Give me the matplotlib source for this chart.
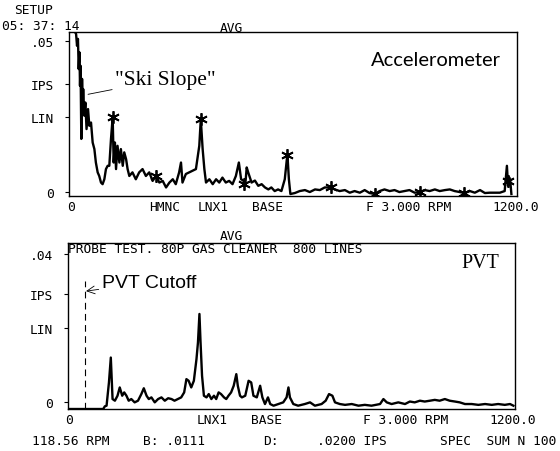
import numpy as np
import matplotlib
matplotlib.use("Agg")
import matplotlib.pyplot as plt

# accelerometer spectrum (RPM, IPS)
acc_rpm = [14, 19, 21.5, 24, 26, 28, 29.5, 31, 33, 35, 36.6, 38, 41, 43.8, 47, 51, 54.5, 59, 63.4, 68,
           72, 76.8, 81, 85.7, 90, 94.7, 99, 103.6, 108, 112.5, 117, 119.7, 123, 126, 130, 135, 139, 144,
           148, 153, 157, 161.6, 170, 179, 188, 197, 206, 215, 224, 233, 242, 251, 260, 269, 278, 286,
           295, 300, 304, 313, 322, 331, 340, 345, 349, 353, 358, 362.6, 367, 376, 385, 394, 402.5, 411,
           420, 429, 438, 447, 455, 461, 467, 472, 476, 480, 489, 498, 507, 516, 525, 534, 542, 551,
           560, 569, 578, 585, 589, 593, 605, 618, 632, 645, 659, 672, 685, 699, 712, 725, 739, 752,
           765, 779, 792, 805, 819, 832, 845, 859, 872, 885, 899, 912, 926, 939, 953, 966, 980, 993,
           1007, 1020, 1033, 1047, 1060, 1074, 1087, 1101, 1114, 1127, 1154, 1167, 1173, 1176, 1179,
           1182, 1185]
acc_ips = [0.0504, 0.0494, 0.0458, 0.0479, 0.0387, 0.0438, 0.0336, 0.0397, 0.0174, 0.0357, 0.0275,
           0.0326, 0.0245, 0.0285, 0.0204, 0.0265, 0.0214, 0.0224, 0.0163, 0.0143, 0.0102, 0.0072,
           0.0061, 0.0041, 0.0036, 0.0051, 0.0082, 0.0092, 0.0092, 0.0174, 0.0240, 0.0102, 0.0163,
           0.0082, 0.0153, 0.0102, 0.0143, 0.0092, 0.0133, 0.0112, 0.0082, 0.0061, 0.0072, 0.0051,
           0.0072, 0.0082, 0.0061, 0.0072, 0.0046, 0.0061, 0.0041, 0.0046, 0.0026, 0.0041, 0.0051,
           0.0036, 0.0072, 0.0102, 0.0041, 0.0067, 0.0072, 0.0077, 0.0082, 0.0122, 0.0153, 0.0234,
           0.0143, 0.0082, 0.0041, 0.0051, 0.0036, 0.0051, 0.0041, 0.0056, 0.0041, 0.0046, 0.0036,
           0.0061, 0.0102, 0.0051, 0.0047, 0.0031, 0.0087, 0.0072, 0.0041, 0.0047, 0.0031, 0.0036,
           0.0026, 0.0020, 0.0026, 0.0015, 0.0020, 0.0015, 0.0051, 0.0128, 0.0051, 0.0006, 0.0009,
           0.0015, 0.0018, 0.0012, 0.0020, 0.0018, 0.0026, 0.0026, 0.0020, 0.0015, 0.0018, 0.0010,
           0.0015, 0.0010, 0.0018, 0.0009, 0.0006, 0.0015, 0.0020, 0.0015, 0.0018, 0.0012, 0.0015,
           0.0018, 0.0010, 0.0012, 0.0018, 0.0015, 0.0020, 0.0015, 0.0018, 0.0020, 0.0015, 0.0012,
           0.0009, 0.0015, 0.0010, 0.0018, 0.0009, 0.0010, 0.0010, 0.0015, 0.0092, 0.0031, 0.0057,
           0.0045, 0.0006]

# harmonic markers
mark_rpm = [117, 234, 353, 470, 585, 702, 821, 939, 1058, 1176]
mark_ips = [0.0240, 0.0060, 0.0234, 0.0037, 0.0125, 0.0026, 0.0006, 0.0012, 0.0009, 0.0045]

# PVT spectrum
pvt_rpm = [0, 94.6, 99, 103.6, 110, 115, 119.7, 126, 133, 139, 145.6, 151, 157, 163, 170, 179, 188,
           197, 203.6, 211, 217, 224, 233, 242, 251, 260, 269, 278, 286, 295, 304, 312, 318, 324, 331,
           338, 345, 349, 353, 356, 360, 365, 372, 378, 385, 392, 398, 404.5, 411, 419, 425, 431, 438,
           445, 452, 456, 462, 467, 476, 485, 492, 498, 507, 516, 522, 529, 537, 543, 552, 565, 578,
           587, 592, 596, 605, 618, 636, 650, 663, 681, 692, 701, 710, 717, 730, 744, 762, 780, 797,
           815, 838, 847, 856, 869, 887, 905, 918, 931, 945, 958, 972, 985, 998, 1012, 1025, 1039,
           1052, 1066, 1084, 1102, 1120, 1138, 1155, 1173, 1187, 1196]
pvt_ips = [0, 0, 0.00065, 0.0008, 0.0064, 0.0124, 0.0024, 0.0020, 0.0032, 0.0052, 0.0032, 0.0040,
           0.0032, 0.0020, 0.0024, 0.0016, 0.0020, 0.0036, 0.0050, 0.0032, 0.0024, 0.0028, 0.0016,
           0.0024, 0.0028, 0.0020, 0.0026, 0.0024, 0.0020, 0.0024, 0.0028, 0.0040, 0.0072, 0.0068,
           0.0052, 0.0068, 0.0120, 0.0160, 0.0229, 0.0160, 0.0080, 0.0032, 0.0028, 0.0036, 0.0024,
           0.0032, 0.0024, 0.0040, 0.0036, 0.0028, 0.0024, 0.0032, 0.0040, 0.0056, 0.0084, 0.0056,
           0.0032, 0.0028, 0.0032, 0.0068, 0.0064, 0.0032, 0.0028, 0.0056, 0.0028, 0.0012, 0.0028,
           0.0012, 0.0008, 0.0012, 0.0016, 0.0028, 0.0052, 0.0028, 0.0012, 0.0008, 0.0012, 0.0016,
           0.0008, 0.0012, 0.0020, 0.0036, 0.0032, 0.0016, 0.0012, 0.0010, 0.0012, 0.0008, 0.0010,
           0.0008, 0.0012, 0.0024, 0.0016, 0.0012, 0.0016, 0.0012, 0.0018, 0.0016, 0.0020, 0.0018,
           0.0020, 0.0022, 0.0020, 0.0024, 0.0020, 0.0018, 0.0016, 0.0012, 0.0012, 0.0010, 0.0012,
           0.0010, 0.0012, 0.0010, 0.0012, 0.0008]

cutoff_rpm = 45.5

top_xlabels = ["0", "HMNC", "LNX1", "BASE", "F 3.000 RPM", "1200.0"]
top_xpos = [5, 257, 386, 533, 911, 1197]
bot_xlabels = ["0", "LNX1", "BASE", "F 3.000 RPM", "1200.0"]
bot_xpos = [3, 386, 533, 906, 1194]
top_ylabels = ["0", "LIN", "IPS", ".05"]
top_ypos = [0.0012, 0.0241, 0.0342, 0.0473]
bot_ylabels = ["0", "LIN", "IPS", ".04"]
bot_ypos = [0.0017, 0.0195, 0.0277, 0.0374]

mono = "DejaVu Sans Mono"
fs = 9.3

fig = plt.figure(figsize=(5.6, 4.52), dpi=100)
ax1 = fig.add_axes([0.1232, 0.5642, 0.8, 0.3628])
ax2 = fig.add_axes([0.1214, 0.0929, 0.798, 0.3673])

for ax in (ax1, ax2):
    ax.set_xlim(0, 1200)
    for s in ax.spines.values():
        s.set_linewidth(1.0)
    ax.tick_params(axis="x", length=0, pad=3)
    ax.tick_params(axis="y", direction="out", length=3, width=0.8, pad=8)

ax1.set_ylim(0, 0.05)
ax1.plot(acc_rpm, acc_ips, color="black", lw=1.7)
ax1.plot(mark_rpm, mark_ips, ls="none", marker=(6, 2, 0), ms=9, mew=1.3, color="black")
ax1.set_xticks(top_xpos)
ax1.set_xticklabels(top_xlabels, fontfamily=mono, fontsize=fs)
ax1.set_yticks(top_ypos)
ax1.set_yticklabels(top_ylabels, fontfamily=mono, fontsize=fs)
ax1.text(0.965, 0.835, "Accelerometer", transform=ax1.transAxes, ha="right", va="center",
         fontfamily="Lato", fontsize=14.5)
ax1.annotate('"Ski Slope"', xy=(51, 0.031), xytext=(123, 0.0356), fontfamily="Liberation Serif",
             fontsize=15.5, va="center", ha="left",
             arrowprops=dict(arrowstyle="-", lw=0.6, color="black", shrinkA=0, shrinkB=0))

ax2.set_ylim(0, 0.04)
ax2.plot(pvt_rpm, pvt_ips, color="black", lw=1.7)
ax2.plot([cutoff_rpm, cutoff_rpm], [0, 0.0309], color="black", lw=0.8, ls=(0, (6, 4)))
ax2.set_xticks(bot_xpos)
ax2.set_xticklabels(bot_xlabels, fontfamily=mono, fontsize=fs)
ax2.set_yticks(bot_ypos)
ax2.set_yticklabels(bot_ylabels, fontfamily=mono, fontsize=fs)
ax2.text(0.965, 0.885, "PVT", transform=ax2.transAxes, ha="right", va="center",
         fontfamily="Liberation Serif", fontsize=14.5)
ax2.annotate("PVT Cutoff", xy=(cutoff_rpm + 3, 0.0284), xytext=(90, 0.0305),
             fontfamily="Liberation Sans", fontsize=14, va="center", ha="left",
             arrowprops=dict(arrowstyle="->", lw=0.6, color="black", shrinkA=0, shrinkB=0))
ax2.text(0.0, 0.965, "PROBE TEST. 80P GAS CLEANER  800 LINES", transform=ax2.transAxes,
         fontfamily=mono, fontsize=fs, va="center", ha="left")

# header / footer texts
def ftext(x, y, s, ha="left"):
    fig.text(x / 560, 1 - y / 452, s, fontfamily=mono, fontsize=fs, ha=ha, va="center")

ftext(14, 11, "SETUP")
ftext(2, 27, "05: 37: 14")
ftext(231, 28, "AVG", ha="center")
ftext(231, 237, "AVG", ha="center")
ftext(32, 442, "118.56 RPM")
ftext(143, 442, "B: .0111")
ftext(263, 442, "D:")
ftext(317, 442, ".0200 IPS")
ftext(440, 442, "SPEC  SUM N 100")

fig.savefig("out.png", dpi=100)
